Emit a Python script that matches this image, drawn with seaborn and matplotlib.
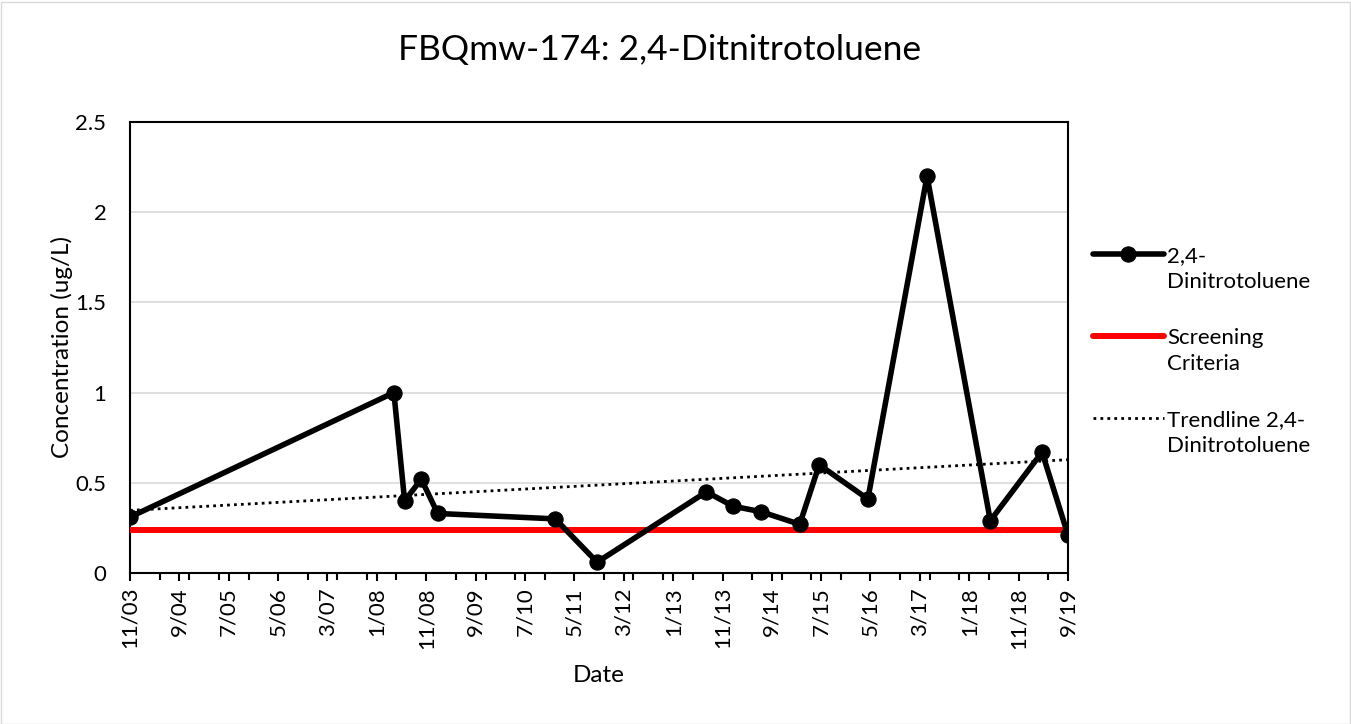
import numpy as np
import pandas as pd
import seaborn as sns
import matplotlib.pyplot as plt
import matplotlib.dates as mdates
from matplotlib.patches import Rectangle

# data
sample_dates = ['2003-11-01', '2008-04-15', '2008-06-20', '2008-10-01', '2009-01-10',
                '2011-01-05', '2011-09-20', '2013-07-25', '2014-01-05', '2014-06-25',
                '2015-02-20', '2015-06-20', '2016-04-15', '2017-04-15', '2018-05-10',
                '2019-03-25', '2019-09-01']
concentration = [0.31, 1.0, 0.40, 0.52, 0.33,
                 0.30, 0.06, 0.45, 0.37, 0.34,
                 0.27, 0.60, 0.41, 2.2, 0.29,
                 0.67, 0.21]
screening_value = 0.24
y_ticks = [0, 0.5, 1, 1.5, 2, 2.5]
y_tick_labels = ['0', '0.5', '1', '1.5', '2', '2.5']

df = pd.DataFrame({'date': pd.to_datetime(sample_dates), 'conc': concentration})
start, end = pd.Timestamp('2003-11-01'), pd.Timestamp('2019-09-01')

# linear trendline (least squares on date number)
x_num = mdates.date2num(df.date)
slope, intercept = np.polyfit(x_num, df.conc, 1)
trend = pd.DataFrame({'date': [start, end]})
trend['conc'] = slope * mdates.date2num(trend.date) + intercept

screen = pd.DataFrame({'date': [start, end], 'conc': [screening_value] * 2})

sns.set_style('white')
plt.rcParams['font.family'] = ['Lato', 'DejaVu Sans']
plt.rcParams['text.color'] = 'black'
plt.rcParams['axes.labelcolor'] = 'black'
plt.rcParams['xtick.color'] = 'black'
plt.rcParams['ytick.color'] = 'black'

fig = plt.figure(figsize=(13.51, 7.24), dpi=100)
ax = fig.add_axes([130 / 1351, 1 - 573 / 724, 938 / 1351, 451 / 724])

fig.patches.append(Rectangle((0.5 / 1351, 0.5 / 724), 1349 / 1351, 722 / 724,
                             transform=fig.transFigure, fill=False,
                             edgecolor='#d9d9d9', linewidth=1))

sns.lineplot(data=df, x='date', y='conc', ax=ax, color='black', linewidth=4,
             marker='o', markersize=11, markeredgecolor='black',
             label='2,4-\nDinitrotoluene', zorder=4)
sns.lineplot(data=screen, x='date', y='conc', ax=ax, color='#ff0000', linewidth=4.3,
             label='Screening\nCriteria', zorder=3)
sns.lineplot(data=trend, x='date', y='conc', ax=ax, color='black', linewidth=2,
             linestyle=(0, (1, 1.5)), label='Trendline 2,4-\nDinitrotoluene', zorder=2)

ax.set_xlim(start, end)
ax.set_ylim(0, 2.5)
ax.set_yticks(y_ticks)
ax.set_yticklabels(y_tick_labels, fontsize=16)
ax.yaxis.grid(True, color='#d9d9d9', linewidth=1.2)
ax.set_axisbelow(True)

major = pd.date_range(start, end, freq='10MS')
minor = pd.date_range(start, end, freq='6MS')
ax.set_xticks(mdates.date2num(major))
ax.set_xticklabels([f'{d.month}/{d.year % 100:02d}' for d in major], rotation=90, fontsize=16)
ax.set_xticks(mdates.date2num(minor), minor=True)
ax.tick_params(axis='x', which='major', direction='out', length=6, width=1.5,
               bottom=True, pad=4)
ax.tick_params(axis='x', which='minor', direction='out', length=5, width=1.5, bottom=True)
ax.tick_params(axis='y', length=0, pad=17)

for spine in ax.spines.values():
    spine.set_visible(True)
    spine.set_color('black')
    spine.set_linewidth(1.5)

ax.set_xlabel('Date', fontsize=17.5, labelpad=12)
ax.set_ylabel('Concentration (ug/L)', fontsize=17.5, labelpad=2)
fig.text(660 / 1351, 1 - 50 / 724, 'FBQmw-174: 2,4-Ditnitrotoluene', fontsize=25.5,
         ha='center', va='center')

leg = ax.legend(loc='center left', bbox_to_anchor=(1.005, 0.492), frameon=False, fontsize=16,
                handlelength=3.2, labelspacing=1.6, handletextpad=0.15)
for t in leg.get_texts():
    t.set_linespacing(1.4)
# handle level with the first line of each two-line label
for col in leg._legend_handle_box.get_children():
    for item in col.get_children():
        item.align = 'top'

fig.savefig('out.png', dpi=100)
